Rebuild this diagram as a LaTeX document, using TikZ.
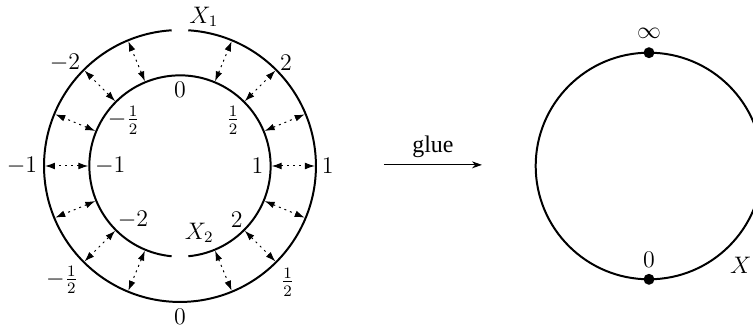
\documentclass[tikz,border=0pt]{standalone}
\usepackage{fontspec}
\setmainfont{Liberation Serif}
\usetikzlibrary{arrows.meta}

\tikzset{
  band/.style={line width=1pt},
  glued/.style={line width=0.5pt, dash pattern=on 1pt off 2pt,
    {Latex[length=5pt,width=3.4pt]}-{Latex[length=5pt,width=3.4pt]}},
  pt/.style={circle, fill, inner sep=0pt, minimum size=5.5pt}
}

\begin{document}
\begin{tikzpicture}[font=\fontsize{12}{14}\selectfont]

\useasboundingbox (-3.177,-2.842) rectangle (10.115,2.930);

% the two pieces, each with its gap
\draw[band] (93.5:2.4) arc (93.5:446.5:2.4);
\draw[band] (-84.7:1.6) arc (-84.7:264.7:1.6);

% identified points
\foreach \i in {0,1,2,3,5,6,7,8,9,10,11,13,14,15} {
  \coordinate (in\i) at (\i*22.5:1.6cm+0.5pt);
  \coordinate (out\i) at (\i*22.5:2.4cm-0.5pt);
  \draw[glued] (in\i) -- (out\i);
}

% outer labels
\node (x1) at (0.42,2.63) {$X_1$};
\node (ot2) at (1.87,1.83) {$2$};
\node (ot1) at (2.61,0) {$1$};
\node (oth) at (1.90,-2.05) {$\frac12$};
\node (ot0) at (0,-2.66) {$0$};
\node (otmh) at (-2.08,-2.01) {$-\frac12$};
\node (otm1) at (-2.79,0) {$-1$};
\node (otm2) at (-2.03,1.83) {$-2$};

% inner labels
\node (in0l) at (0,1.34) {$0$};
\node (inhl) at (0.94,0.81) {$\frac12$};
\node (in1l) at (1.37,0) {$1$};
\node (in2l) at (1.0,-0.95) {$2$};
\node (x2) at (0.34,-1.18) {$X_2$};
\node (inm2l) at (-0.83,-0.95) {$-2$};
\node (inm1l) at (-1.23,0) {$-1$};
\node (inmhl) at (-0.99,0.81) {$-\frac12$};

% gluing map
\coordinate (gs) at (3.60,0.02);
\coordinate (ge) at (5.33,0.02);
\draw[line width=0.5pt, -{Stealth[length=5pt,width=3.5pt]}] (gs) -- node[above] {glue} (ge);

% the result
\coordinate (c) at (8.279,0);
\draw[band] (c) circle (2.0);
\node[pt] (inf) at (8.279,2) {};
\node[pt] (zero) at (8.279,-2) {};
\node (infl) at (8.279,2.35) {$\infty$};
\node (zerol) at (8.279,-1.66) {$0$};
\node (xl) at (9.90,-1.75) {$X$};

\end{tikzpicture}
\end{document}
